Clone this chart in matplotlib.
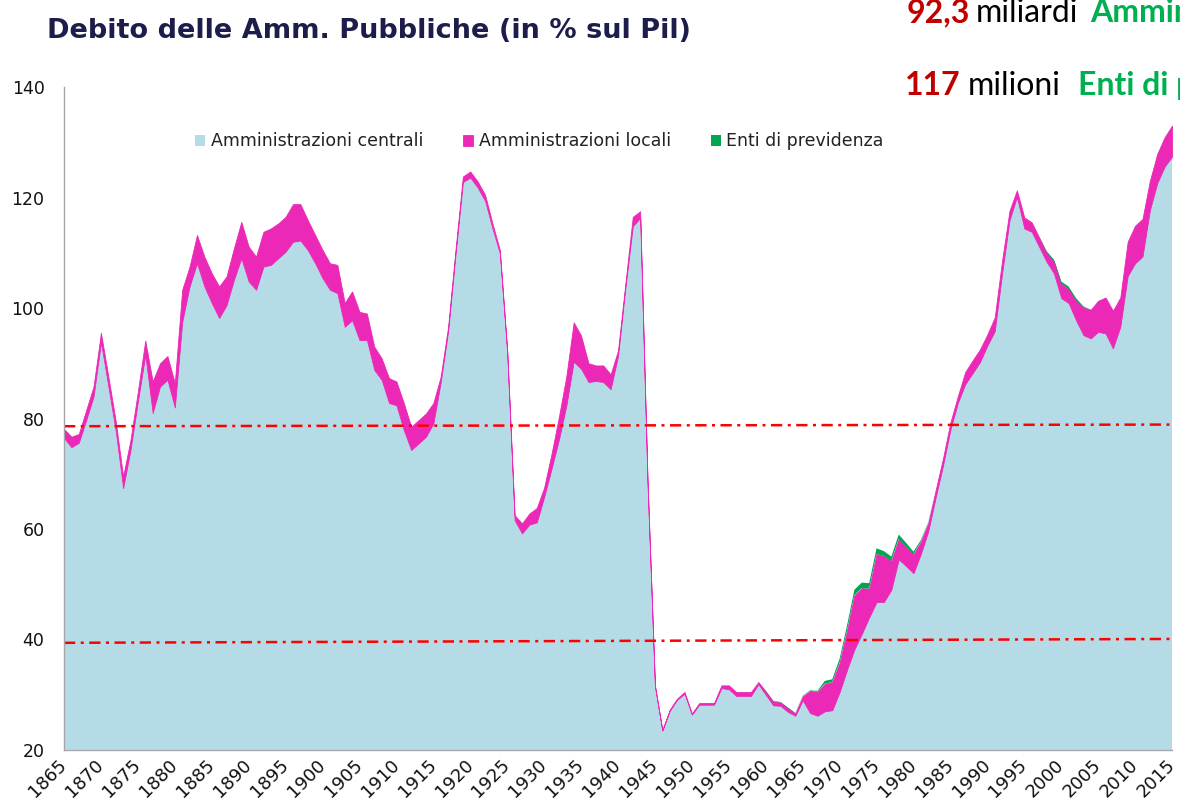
import matplotlib
matplotlib.use("Agg")
import matplotlib.pyplot as plt

# anni e serie (in % del Pil), letti a occhio dal grafico
anni = list(range(1865, 2016))

centrali = [
    76.5, 74.8, 75.6, 79.7, 84.0, 93.8, 85.8, 77.7, 67.4, 74.3,        # 1865-1874
    83.1, 91.5, 81.0, 85.8, 87.0, 82.0, 97.5, 103.9, 108.1, 103.9,     # 1875-1884
    100.9, 98.2, 100.5, 105.1, 109.0, 104.8, 103.3, 107.5, 107.8, 109.0,
    110.2, 112.0, 112.2, 110.5, 108.1, 105.4, 103.3, 102.7, 96.6, 97.8,
    94.2, 94.2, 88.8, 87.0, 82.8, 82.4, 77.9, 74.3, 75.5, 76.7,
    79.1, 86.6, 95.8, 109.7, 122.8, 123.6, 121.8, 119.4, 114.4, 109.9,
    91.8, 61.6, 59.2, 60.8, 61.2, 65.8, 70.9, 76.2, 82.3, 90.3,
    89.0, 86.6, 86.8, 86.6, 85.3, 91.3, 103.7, 114.8, 116.3, 68.2,
    31.5, 23.5, 27.1, 29.1, 30.2, 26.4, 28.2, 28.2, 28.2, 31.2,
    31.0, 29.8, 29.8, 29.8, 31.9, 30.0, 28.1, 28.0, 26.9, 26.2,
    29.0, 26.7, 26.2, 27.0, 27.2, 30.5, 34.5, 38.2, 41.0, 44.0,
    46.8, 46.8, 49.0, 54.5, 53.3, 52.0, 55.5, 59.6, 65.7, 71.5,
    78.0, 82.8, 86.2, 88.2, 90.2, 93.2, 95.8, 106.3, 115.9, 120.1,
    114.4, 113.8, 111.1, 108.4, 106.3, 101.8, 100.9, 97.8, 95.1, 94.5,
    95.7, 95.4, 92.7, 96.6, 105.8, 108.1, 109.3, 117.7, 122.6, 125.6,
    127.4,
]

locali = [
    1.6, 1.9, 1.6, 1.8, 1.8, 1.7, 1.8, 1.8, 2.1, 1.8,
    1.8, 2.6, 5.7, 4.2, 4.3, 4.4, 5.8, 3.6, 5.1, 5.4,
    5.4, 5.7, 5.2, 5.7, 6.6, 6.3, 6.0, 6.3, 6.6, 6.3,
    6.3, 6.8, 6.6, 5.4, 5.1, 5.1, 4.8, 5.1, 4.3, 5.2,
    5.1, 4.8, 4.2, 3.9, 4.5, 4.3, 4.9, 4.2, 4.2, 4.2,
    3.7, 1.0, 0.8, 0.8, 1.0, 1.1, 1.1, 1.1, 0.9, 0.6,
    0.6, 0.9, 1.8, 2.0, 2.6, 1.7, 2.7, 4.1, 5.3, 7.1,
    6.0, 3.4, 2.8, 3.0, 2.7, 1.0, 0.7, 1.7, 1.2, 0.3,
    0.2, 0.1, 0.2, 0.2, 0.3, 0.2, 0.3, 0.3, 0.3, 0.5,
    0.7, 0.7, 0.7, 0.7, 0.4, 0.6, 0.7, 0.6, 0.7, 0.4,
    0.7, 4.0, 4.3, 5.0, 5.1, 5.3, 7.1, 9.8, 8.3, 5.2,
    8.7, 8.3, 5.2, 3.7, 3.5, 3.4, 2.2, 1.4, 1.3, 1.3,
    1.3, 1.2, 2.2, 2.3, 2.3, 2.0, 2.5, 2.3, 1.7, 1.2,
    2.0, 1.7, 1.7, 1.7, 2.2, 2.6, 2.6, 3.6, 5.0, 5.2,
    5.6, 6.5, 6.8, 5.3, 6.2, 6.8, 6.8, 5.3, 5.3, 5.3,
    5.6,
]

enti = [0.0] * 95 + [          # 1865-1959
    0.1, 0.1, 0.1, 0.1, 0.1,                                  # 1960-1964
    0.1, 0.1, 0.2, 0.5, 0.5, 0.7, 0.9, 1.0, 1.0, 1.0,         # 1965-1974
    1.0, 0.9, 0.8, 0.8, 0.7, 0.5, 0.3, 0.2, 0.0, 0.0,         # 1975-1984
    0.0, 0.0, 0.0, 0.0, 0.0, 0.0, 0.0, 0.0, 0.0, 0.0,         # 1985-1994
    0.0, 0.0, 0.0, 0.2, 0.3, 0.4, 0.4, 0.4, 0.2, 0.0,         # 1995-2004
    0.0, 0.0, 0.0, 0.0, 0.0, 0.0, 0.0, 0.0, 0.0, 0.0,         # 2005-2014
    0.0,
]

serie = ["Amministrazioni centrali", "Amministrazioni locali", "Enti di previdenza"]
colori = ["#b5dce6", "#ec28b6", "#00a651"]

# linee di riferimento (inizio e fine)
soglia_alta = [78.6, 78.9]
soglia_bassa = [39.4, 40.1]

W, H = 1180, 809
fig = plt.figure(figsize=(W / 100, H / 100), dpi=100)
ax = fig.add_axes([64 / W, 1 - 750 / H, (1172 - 64) / W, (750 - 87) / H])

polys = ax.stackplot(anni, centrali, locali, enti, colors=colori, labels=serie, linewidth=0)
polys[0].set_edgecolor("none")
polys[1].set_edgecolor(colori[1])
polys[1].set_linewidth(0.6)
polys[2].set_edgecolor("none")

dash = (0, (4.5, 2.2, 1.2, 2.2))
ax.plot([anni[0], anni[-1]], soglia_alta, color="#ff0000", lw=1.8, linestyle=dash)
ax.plot([anni[0], anni[-1]], soglia_bassa, color="#ff0000", lw=1.8, linestyle=dash)

ax.set_xlim(1865, 2015)
ax.set_ylim(20, 140)
ax.set_yticks(range(20, 141, 20))
ax.set_xticks(range(1865, 2016, 5))
ax.tick_params(axis="y", length=0, pad=14, labelsize=12.5, labelcolor="#111111")
ax.tick_params(axis="x", length=0, pad=9, labelsize=13, labelcolor="#111111")
for lab in ax.get_xticklabels():
    lab.set_rotation(45)
    lab.set_ha("right")
    lab.set_va("center")
    lab.set_rotation_mode("anchor")

for s in ["top", "right"]:
    ax.spines[s].set_visible(False)
for s in ["left", "bottom"]:
    ax.spines[s].set_color("#a6a6a6")
    ax.spines[s].set_linewidth(1.0)

leg = ax.legend(loc="center", bbox_to_anchor=(0.429, 0.918), ncol=3, frameon=False,
                fontsize=12.5, handlelength=0.6, handleheight=0.6, handletextpad=0.3,
                columnspacing=2.3)
for t in leg.get_texts():
    t.set_color("#222222")

fig.text(47 / W, 1 - 31 / H, "Debito delle Amm. Pubbliche (in % sul Pil)", family="DejaVu Sans",
         fontweight="bold", fontsize=19.5, color="#1d1d4b", va="center", ha="left")

# righe in alto a destra, ogni parola alla sua x (pixel)
righe = [
    (22, [(907, "92,3", "#c00000", "bold"), (976, "miliardi", "#000000", "normal"),
          (1090, "Amministrazioni locali", "#00b050", "bold")]),
    (95, [(905, "117", "#c00000", "bold"), (968, "milioni", "#000000", "normal"),
          (1078, "Enti di previdenza", "#00b050", "bold")]),
]
for y, pezzi in righe:
    for x, s, col, w in pezzi:
        fig.text(x / W, 1 - y / H, s, family="Lato", fontsize=23, color=col,
                 fontweight=w, va="baseline", ha="left")

fig.savefig("out.png", dpi=100)
